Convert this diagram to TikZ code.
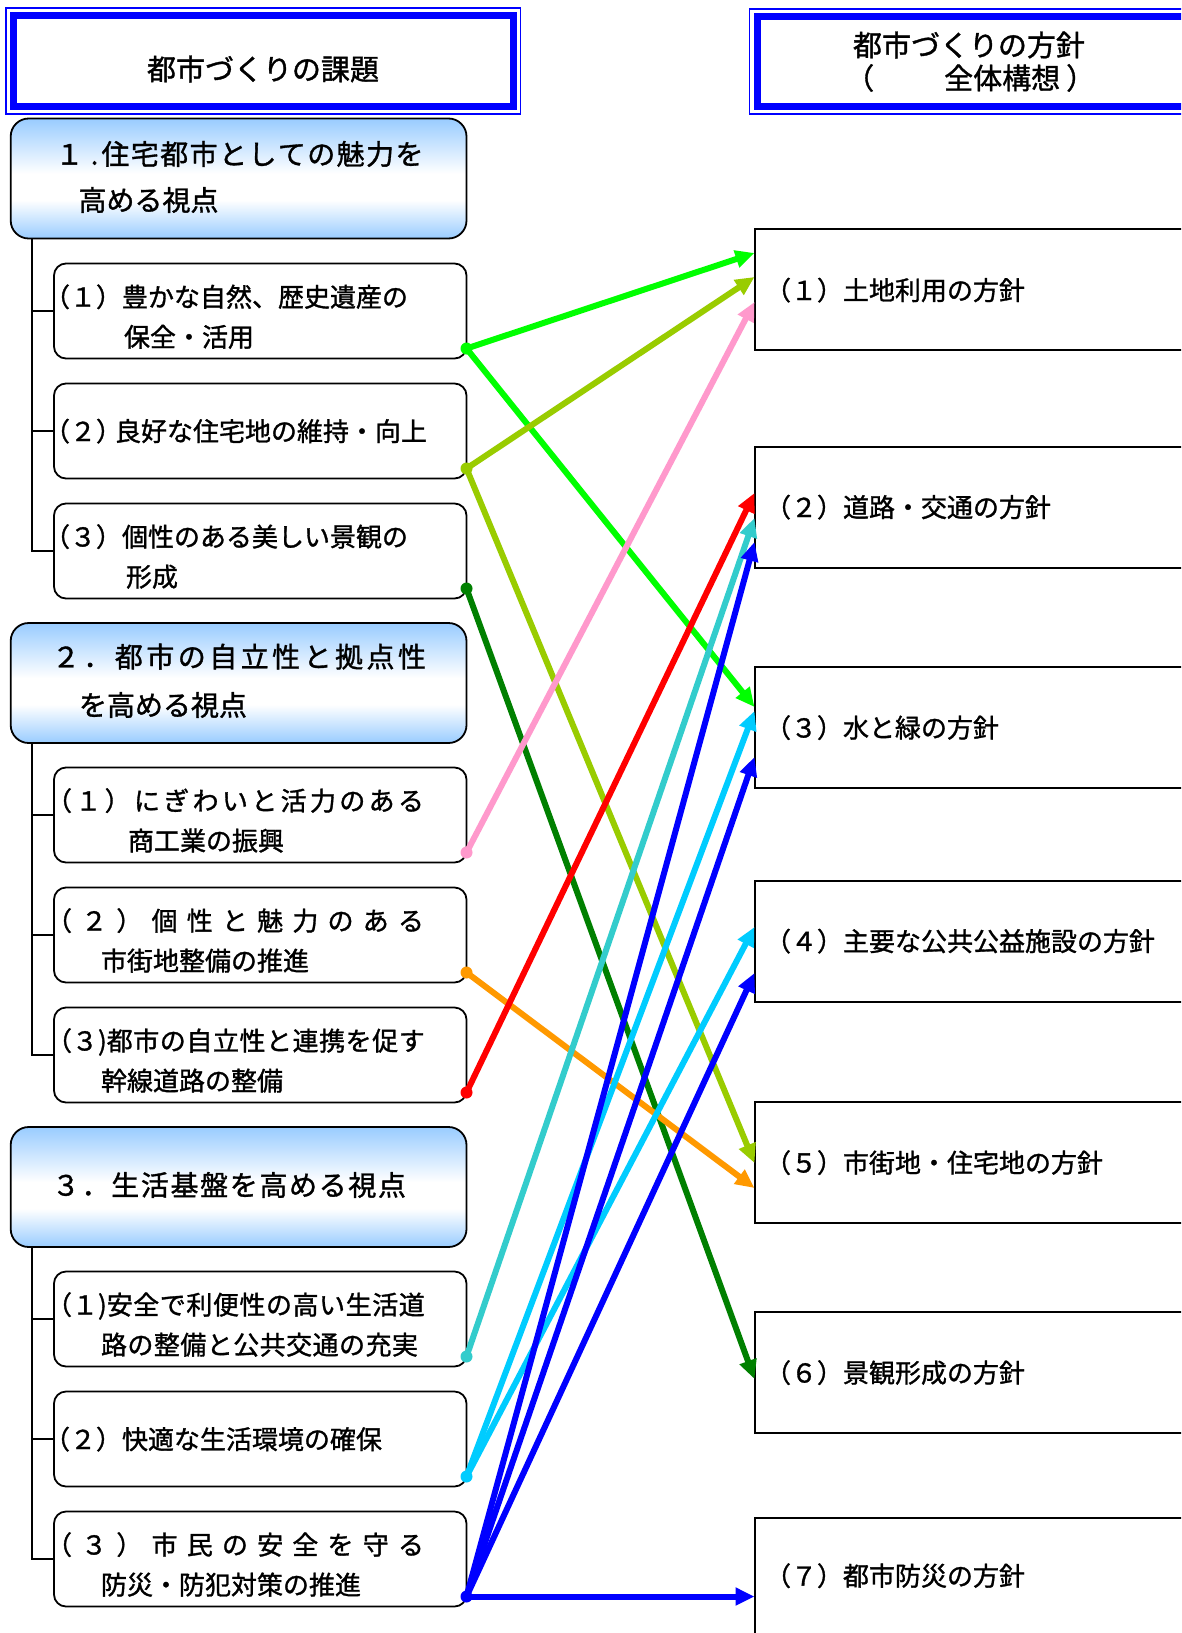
\documentclass[tikz,border=0pt]{standalone}
\usepackage{fontspec}
\setmainfont{Noto Sans CJK JP}[RawFeature={embolden=1.2}]
\usetikzlibrary{arrows.meta}
\definecolor{cgreen}{RGB}{0,255,0}
\definecolor{clime}{RGB}{153,204,0}
\definecolor{cpink}{RGB}{255,153,204}
\definecolor{cdgreen}{RGB}{0,128,0}
\definecolor{corange}{RGB}{255,153,0}
\definecolor{cred}{RGB}{255,0,0}
\definecolor{cteal}{RGB}{51,204,204}
\definecolor{csky}{RGB}{0,204,255}
\definecolor{cblue}{RGB}{0,0,255}
\definecolor{sblue}{RGB}{153,204,255}
\pgfdeclareverticalshading{secshade}{100bp}{color(0bp)=(sblue); color(25bp)=(sblue); color(41bp)=(white); color(52bp)=(white); color(75bp)=(sblue); color(100bp)=(sblue)}
\newcommand\fsub{\fontsize{26pt}{31pt}\selectfont}
\newcommand\fsec{\fontsize{28pt}{34pt}\selectfont}
\newcommand\fttl{\fontsize{29pt}{34pt}\selectfont}
\def\sprA#1{\ifx#1\relax\unskip\else#1\hfil\expandafter\sprA\fi}
\newcommand\spr[2]{\makebox[#1][s]{\sprA#2\relax}}
\begin{document}
\begin{tikzpicture}[x=1pt,y=-1pt,
  ttlbox/.style={draw=cblue, line width=7pt, fill=white, inner sep=0pt, outer sep=0pt, anchor=north west},
  secbox/.style={draw=black, line width=1.8pt, rounded corners=18pt, shade, shading=secshade, minimum width=455.8pt, minimum height=120pt, inner sep=0pt, outer sep=0pt, anchor=north west},
  subbox/.style={draw=black, line width=1.8pt, rounded corners=12pt, fill=white, minimum width=412.5pt, minimum height=95pt, inner sep=0pt, outer sep=0pt, anchor=north west},
  polbox/.style={draw=black, line width=2pt, fill=white, minimum width=460pt, minimum height=121pt, inner sep=0pt, outer sep=0pt, anchor=north west},
  tl/.style={anchor=base west, inner sep=0pt, outer sep=0pt, font=\fsub},
  sl/.style={anchor=base west, inner sep=0pt, outer sep=0pt, font=\fsec},
  treeline/.style={draw=black, line width=2pt},
  linkarrow/.style={line width=6pt, -{Triangle[length=19pt,width=17pt]}},
  srcdot/.style={circle, inner sep=0pt, outer sep=0pt, minimum size=12pt}
]
\useasboundingbox (0,0) rectangle (1181,1633);
\clip (0,0) rectangle (1181,1633);
\fill[white] (0,0) rectangle (1181,1633);

% title boxes
\node[ttlbox, minimum width=499.5pt, minimum height=91pt] (lh) at (13.5,15.5) {};
\draw[cblue, line width=1.5pt] ([xshift=-7.5pt,yshift=7.5pt]lh.north west) rectangle ([xshift=7.5pt,yshift=-7.5pt]lh.south east);
\node[ttlbox, minimum width=450pt, minimum height=90pt] (rh) at (757,16.5) {};
\draw[cblue, line width=1.5pt] ([xshift=-7.5pt,yshift=7.5pt]rh.north west) rectangle ([xshift=7.5pt,yshift=-7.5pt]rh.south east);
\node[anchor=base, inner sep=0pt, font=\fttl] (lht) at (263,80) {都市づくりの課題};
\node[anchor=base, inner sep=0pt, font=\fttl] (rht1) at (969,56) {都市づくりの方針};
\node[anchor=base west, inner sep=0pt, font=\fttl] (rht2) at (845,89) {（\hspace{70pt}全体構想\hspace{6pt}）};

% section boxes
\node[secbox] (s1) at (10.7,118.5) {};
\node[secbox] (s2) at (10.7,623) {};
\node[secbox] (s3) at (10.7,1127) {};

% sub boxes
\node[subbox] (b11) at (54,263.5) {};
\node[subbox] (b12) at (54,383.5) {};
\node[subbox] (b13) at (54,503.5) {};
\node[subbox] (b21) at (54,767.5) {};
\node[subbox] (b22) at (54,887.5) {};
\node[subbox] (b23) at (54,1007.5) {};
\node[subbox] (b31) at (54,1271.5) {};
\node[subbox] (b32) at (54,1391.5) {};
\node[subbox] (b33) at (54,1511.5) {};

% tree lines
\draw[treeline] ([xshift=21.6pt]s1.south west) |- (b13.west);
\draw[treeline] (b11.west) -- ++(-21.7,0);
\draw[treeline] (b12.west) -- ++(-21.7,0);
\draw[treeline] ([xshift=21.6pt]s2.south west) |- (b23.west);
\draw[treeline] (b21.west) -- ++(-21.7,0);
\draw[treeline] (b22.west) -- ++(-21.7,0);
\draw[treeline] ([xshift=21.6pt]s3.south west) |- (b33.west);
\draw[treeline] (b31.west) -- ++(-21.7,0);
\draw[treeline] (b32.west) -- ++(-21.7,0);

% right policy boxes
\node[polbox] (r1) at (754.5,229.3) {};
\node[polbox] (r2) at (754.5,447) {};
\node[polbox] (r3) at (754.5,667) {};
\node[polbox] (r4) at (754.5,881) {};
\node[polbox] (r5) at (754.5,1102) {};
\node[polbox] (r6) at (754.5,1312) {};
\node[polbox] (r7) at (754.5,1517.7) {};

% section texts
\node[sl] (s1a) at (55.5,164.6) {\makebox[46pt][s]{１\hfil.\hspace{3pt}}\spr{322pt}{住宅都市としての魅力を}};
\node[sl] (s1b) at (78.5,210.6) {高める視点};
\node[sl] (s2a) at (52,667.3) {\spr{374pt}{２．都市の自立性と拠点性}};
\node[sl] (s2b) at (79,715.6) {を高める視点};
\node[sl] (s3a) at (52,1195.6) {\spr{354pt}{３．生活基盤を高める視点}};

% sub texts
\node[tl] (t11a) at (44,306.7) {（１）豊かな自然、歴史遺産の};
\node[tl] (t11b) at (124,346.7) {保全・活用};
\node[tl] (t12a) at (44,441) {（２）\hspace{-7pt}良好な住宅地の維持・向上};
\node[tl] (t13a) at (44,546.5) {（３）個性のある美しい景観の};
\node[tl] (t13b) at (126,586.5) {形成};
\node[tl] (t21a) at (46,810.5) {\spr{378pt}{（１）にぎわいと活力のある}};
\node[tl] (t21b) at (128,850.5) {商工業の振興};
\node[tl] (t22a) at (46,930.5) {\spr{378pt}{（２）個性と魅力のある}};
\node[tl] (t22b) at (101,970.5) {市街地整備の推進};
\node[tl] (t23a) at (46,1050.5) {（３)\spr{318pt}{都市の自立性と連携を促す}};
\node[tl] (t23b) at (101,1090.5) {幹線道路の整備};
\node[tl] (t31a) at (46,1314.5) {（１)\spr{318pt}{安全で利便性の高い生活道}};
\node[tl] (t31b) at (101,1354.5) {\spr{317pt}{路の整備と公共交通の充実}};
\node[tl] (t32a) at (44,1449) {（２）快適な生活環境の確保};
\node[tl] (t33a) at (46,1554.5) {\spr{378pt}{（３）市民の安全を守る}};
\node[tl] (t33b) at (101,1594.5) {防災・防犯対策の推進};

% policy texts
\node[tl] (p1) at (765,300) {（１）土地利用の方針};
\node[tl] (p2) at (765,517) {（２）道路・交通の方針};
\node[tl] (p3) at (765,737.5) {（３）水と緑の方針};
\node[tl] (p4) at (765,951) {（４）主要な公共公益施設の方針};
\node[tl] (p5) at (765,1172.5) {（５）市街地・住宅地の方針};
\node[tl] (p6) at (765,1382.5) {（６）景観形成の方針};
\node[tl] (p7) at (765,1585.6) {（７）都市防災の方針};

% source dots
\node[srcdot, fill=cgreen] (d11) at ([yshift=10pt]b11.south east) {};
\node[srcdot, fill=clime] (d12) at ([yshift=10pt]b12.south east) {};
\node[srcdot, fill=cdgreen] (d13) at ([yshift=10pt]b13.south east) {};
\node[srcdot, fill=cpink] (d21) at ([yshift=10pt]b21.south east) {};
\node[srcdot, fill=corange] (d22) at ([yshift=10pt]b22.south east) {};
\node[srcdot, fill=cred] (d23) at ([yshift=10pt]b23.south east) {};
\node[srcdot, fill=cteal] (d31) at ([yshift=10pt]b31.south east) {};
\node[srcdot, fill=csky] (d32) at ([yshift=10pt]b32.south east) {};
\node[srcdot, fill=cblue] (d33) at ([yshift=10pt]b33.south east) {};

% connectors
\draw[linkarrow, cgreen] (d11.center) -- ([yshift=-23.7pt]r1.north west);
\draw[linkarrow, cgreen] (d11.center) -- ([yshift=-40pt]r3.north west);
\draw[linkarrow, clime] (d12.center) -- ([yshift=-47.7pt]r1.north west);
\draw[linkarrow, clime] (d12.center) -- ([yshift=-61pt]r5.north west);
\draw[linkarrow, cdgreen] (d13.center) -- ([yshift=-67pt]r6.north west);
\draw[linkarrow, cpink] (d21.center) -- ([yshift=-72.7pt]r1.north west);
\draw[linkarrow, corange] (d22.center) -- ([yshift=-86pt]r5.north west);
\draw[linkarrow, cred] (d23.center) -- ([yshift=-46pt]r2.north west);
\draw[linkarrow, cteal] (d31.center) -- ([yshift=-71pt]r2.north west);
\draw[linkarrow, csky] (d32.center) -- ([yshift=-44pt]r3.north west);
\draw[linkarrow, csky] (d32.center) -- ([yshift=-46pt]r4.north west);
\draw[linkarrow, cblue] (d33.center) -- ([yshift=-95pt]r2.north west);
\draw[linkarrow, cblue] (d33.center) -- ([yshift=-90pt]r3.north west);
\draw[linkarrow, cblue] (d33.center) -- ([yshift=-92pt]r4.north west);
\draw[linkarrow, cblue] (d33.center) -- (d33.center -| r7.west);
\end{tikzpicture}
\end{document}
